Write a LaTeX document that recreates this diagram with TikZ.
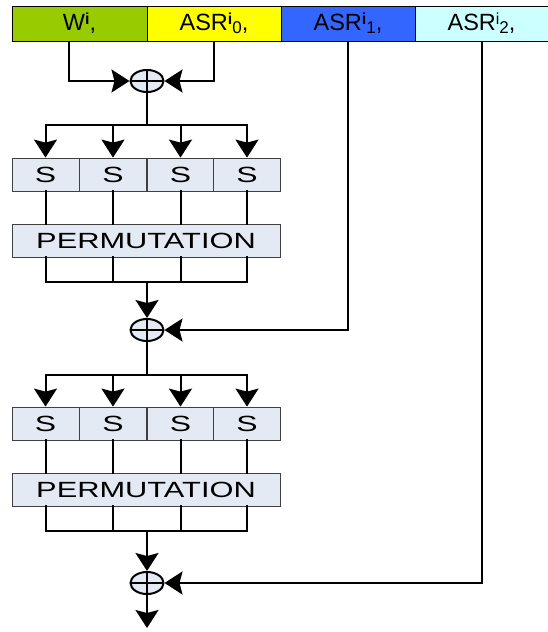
\documentclass[tikz,border=0pt]{standalone}
\usepackage{fontspec}
\setmainfont{Liberation Sans}
\usetikzlibrary{arrows.meta,shapes.geometric}
\definecolor{cgreen}{HTML}{99CC00}
\definecolor{cyellow}{HTML}{FFFF00}
\definecolor{cblue}{HTML}{3366FF}
\definecolor{ccyan}{HTML}{CCFFFF}
\definecolor{boxfill}{HTML}{E4EAF4}
\newcommand\MySup[2][\bfseries]{\raisebox{6pt}{\fontsize{16}{16}\selectfont#1#2}}
\newcommand\MySub[1]{\raisebox{-3pt}{\fontsize{17}{17}\selectfont #1}}
\begin{document}
\begin{tikzpicture}[x=1pt,y=-1pt,line width=2pt,line cap=rect,
  cell/.style={draw=black, line width=1pt, minimum height=35pt, inner sep=0pt, font=\fontsize{23.5}{23.5}\selectfont},
  sbox/.style={draw=black!75, line width=0.8pt, fill=boxfill, minimum width=67pt, minimum height=33pt, inner sep=0pt, font=\fontsize{22}{22}\selectfont},
  xor/.style={ellipse, draw, line width=2pt, fill=boxfill, minimum width=33pt, minimum height=22pt, inner sep=0pt,
    path picture={\draw[line width=1.5pt] (path picture bounding box.north) -- (path picture bounding box.south)
      (path picture bounding box.west) -- (path picture bounding box.east);}},
  arr/.style={line cap=butt,-{Stealth[length=18pt,width=23pt,inset=3pt]}}]
\useasboundingbox (0,0) rectangle (548,632);

% top register
\node[cell, fill=cgreen, minimum width=135pt] (w) at (79.5,23.5) {W\MySup{i},};
\node[cell, fill=cyellow, minimum width=134pt] (a0) at (214,23.5) {ASR\MySup{i}\MySub{0},};
\node[cell, fill=cblue, minimum width=134pt] (a1) at (348,23.5) {ASR\MySup{i}\MySub{1},};
\node[cell, fill=ccyan, minimum width=133pt] (a2) at (481.5,23.5) {ASR\MySup[]{i}\MySub{2},};

% xor nodes
\node[xor] (x1) at (147,81) {};
\node[xor] (x2) at (147,330) {};
\node[xor] (x3) at (147,583) {};

% s-boxes and permutations
\foreach \k/\x in {1/45.5,2/113,3/180.5,4/247}{
  \node[sbox] (s1\k) at (\x,174.5) {\scalebox{1.45}[1]{S}};
  \node[sbox] (s2\k) at (\x,423.5) {\scalebox{1.45}[1]{S}};
}
\node[sbox, minimum width=268pt] (p1) at (146,240.5) {\scalebox{1.4}[1]{PERMUTATION}};
\node[sbox, minimum width=268pt] (p2) at (146,489.5) {\scalebox{1.4}[1]{PERMUTATION}};

\coordinate (b1) at (147,125);
\coordinate (j1) at (147,282);
\coordinate (b2) at (147,375);
\coordinate (j2) at (147,531);
\coordinate (out) at (147,628);

% inputs to first xor
\draw[arr] ([xshift=-10.5pt]w.south) |- (x1.west);
\draw[arr] (a0.south) |- (x1.east);

% round 1 wiring
\draw (x1.south) -- (b1);
\draw (b1 -| s11) -- (b1 -| s14);
\foreach \k in {1,...,4}{
  \draw[arr] (b1 -| s1\k) -- (s1\k.north);
  \draw (s1\k.south) -- (s1\k.south |- p1.north);
  \draw (p1.south -| s1\k) -- (j1 -| s1\k);
}
\draw (j1 -| s11) -- (j1 -| s14);
\draw[arr] (j1) -- (x2.north);
\draw[arr] (a1.south) |- (x2.east);

% round 2 wiring
\draw (x2.south) -- (b2);
\draw (b2 -| s21) -- (b2 -| s24);
\foreach \k in {1,...,4}{
  \draw[arr] (b2 -| s2\k) -- (s2\k.north);
  \draw (s2\k.south) -- (s2\k.south |- p2.north);
  \draw (p2.south -| s2\k) -- (j2 -| s2\k);
}
\draw (j2 -| s21) -- (j2 -| s24);
\draw[arr] (j2) -- (x3.north);
\draw[arr] (a2.south) |- (x3.east);
\draw[arr] (x3.south) -- (out);
\end{tikzpicture}
\end{document}
